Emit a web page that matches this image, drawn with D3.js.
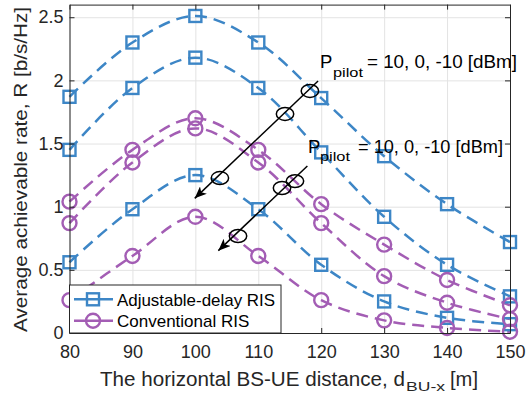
<!DOCTYPE html>
<html><head><meta charset="utf-8">
<script src="https://cdn.jsdelivr.net/npm/d3@7"></script>
<style>
html,body{margin:0;padding:0;background:#fff;}
svg{display:block;font-family:"Liberation Sans",Arial,Helvetica,sans-serif;}
</style></head>
<body><svg id="chart" width="531" height="394"></svg>
<script>
// ---- data ----
const distances = [80, 90, 100, 110, 120, 130, 140, 150];
const adjHigh = [1.87, 2.30, 2.51, 2.30, 1.86, 1.40, 1.02, 0.72];
const adjMid  = [1.45, 1.94, 2.18, 1.94, 1.43, 0.92, 0.54, 0.29];
const adjLow  = [0.56, 0.98, 1.25, 0.98, 0.54, 0.25, 0.12, 0.07];
const convHigh = [1.04, 1.45, 1.70, 1.45, 1.02, 0.70, 0.42, 0.22];
const convMid  = [0.87, 1.35, 1.62, 1.35, 0.87, 0.45, 0.24, 0.11];
const convLow  = [0.26, 0.61, 0.92, 0.61, 0.26, 0.10, 0.04, 0.01];
const yTicks = [0, 0.5, 1, 1.5, 2, 2.5];
const yTickLabels = ["0", "0.5", "1", "1.5", "2", "2.5"];
const legendLabels = ["Adjustable-delay RIS", "Conventional RIS"];
const annotationText = "= 10, 0, -10 [dBm]";

// annotation geometry in data units
const ann1 = {from:[119.5,1.995], to:[99.9,1.066], rings:[[118.2,1.916],[114.25,1.734],[103.9,1.227]], label:[119.8,2.095]};
const ann2 = {from:[117.8,1.322], to:[103.65,0.652], rings:[[115.83,1.203],[113.77,1.148],[106.78,0.768]], label:[117.9,1.425]};

const BLUE = "#3d86c6", PURPLE = "#a35db4", AXC = "#262626";

const svg = d3.select("#chart");
const L = 69.5, R = 510, T = 4.6, B = 333;
const x = d3.scaleLinear().domain([80,150]).range([L,R]);
const y = d3.scaleLinear().domain([0,2.6]).range([B,T]);

// grid
svg.append("g").attr("transform",`translate(0,${B})`)
  .call(d3.axisBottom(x).tickValues(distances).tickSize(-(B-T)).tickFormat(""))
  .call(g=>{g.select(".domain").remove(); g.selectAll("line").attr("stroke","#e3e3e3");});
svg.append("g").attr("transform",`translate(${L},0)`)
  .call(d3.axisLeft(y).tickValues(yTicks).tickSize(-(R-L)).tickFormat(""))
  .call(g=>{g.select(".domain").remove(); g.selectAll("line").attr("stroke","#e3e3e3");});

// series
const line = d3.line().x((d,i)=>x(distances[i])).y(d=>y(d)).curve(d3.curveCatmullRom.alpha(0.5));
const series = [
  {v:adjHigh,c:BLUE,m:"sq"},{v:adjMid,c:BLUE,m:"sq"},{v:adjLow,c:BLUE,m:"sq"},
  {v:convHigh,c:PURPLE,m:"ci"},{v:convMid,c:PURPLE,m:"ci"},{v:convLow,c:PURPLE,m:"ci"}
];
series.forEach(s=>{
  svg.append("path").datum(s.v).attr("d",line).attr("fill","none")
    .attr("stroke",s.c).attr("stroke-width",2.5).attr("stroke-dasharray","12,7");
});
function drawMarker(g, type, color, cx, cy){
  if(type==="sq"){
    g.append("rect").attr("x",cx-6).attr("y",cy-6).attr("width",12).attr("height",12)
      .attr("fill","none").attr("stroke",color).attr("stroke-width",2.4);
  } else {
    g.append("circle").attr("cx",cx).attr("cy",cy).attr("r",7)
      .attr("fill","none").attr("stroke",color).attr("stroke-width",2.4);
  }
}
series.forEach(s=>{
  const g = svg.append("g");
  s.v.forEach((d,i)=>drawMarker(g,s.m,s.c,x(distances[i]),y(d)));
});

// axes (box with inward ticks)
const styleAxis = g=>{g.select(".domain").attr("stroke",AXC); g.selectAll(".tick line").attr("stroke",AXC);
  g.selectAll("text").attr("fill",AXC).attr("font-size",18).attr("font-family","Liberation Sans, Arial, sans-serif");};
svg.append("g").attr("transform",`translate(0,${B})`)
  .call(d3.axisBottom(x).tickValues(distances).tickSize(-5).tickSizeOuter(0).tickPadding(12)).call(styleAxis);
svg.append("g").attr("transform",`translate(${L},0)`)
  .call(d3.axisLeft(y).tickValues(yTicks).tickFormat((d,i)=>yTickLabels[i]).tickSize(-5).tickSizeOuter(0).tickPadding(6)).call(styleAxis);
svg.append("g").attr("transform",`translate(0,${T})`)
  .call(d3.axisTop(x).tickValues(distances).tickSize(-5).tickSizeOuter(0).tickFormat("")).call(styleAxis);
svg.append("g").attr("transform",`translate(${R},0)`)
  .call(d3.axisRight(y).tickValues(yTicks).tickSize(-5).tickSizeOuter(0).tickFormat("")).call(styleAxis);

// axis labels
const xl = svg.append("g").attr("fill",AXC);
xl.append("text").attr("x",100).attr("y",386).attr("font-size",19.5)
  .attr("textLength",305).attr("lengthAdjust","spacingAndGlyphs").text("The horizontal BS-UE distance, d");
xl.append("text").attr("x",406).attr("y",390.5).attr("font-size",13.5)
  .attr("textLength",39).attr("lengthAdjust","spacingAndGlyphs").text("BU-x");
xl.append("text").attr("x",450).attr("y",386).attr("font-size",19.5)
  .attr("textLength",28).attr("lengthAdjust","spacingAndGlyphs").text("[m]");
svg.append("text").attr("transform","translate(26.5,169.5) rotate(-90)").attr("text-anchor","middle")
  .attr("fill",AXC).attr("font-size",18.5).attr("textLength",325).attr("lengthAdjust","spacingAndGlyphs")
  .text("Average achievable rate, R [b/s/Hz]");

// annotations
const defs = svg.append("defs");
defs.append("marker").attr("id","arr").attr("viewBox","0 0 12 10").attr("refX",12).attr("refY",5)
  .attr("markerWidth",12).attr("markerHeight",10).attr("markerUnits","userSpaceOnUse").attr("orient","auto")
  .append("path").attr("d","M0,0 L12,5 L0,10 L3,5 Z").attr("fill","#000");
[ann1,ann2].forEach((a,k)=>{
  svg.append("line").attr("x1",x(a.from[0])).attr("y1",y(a.from[1]))
    .attr("x2",x(a.to[0])).attr("y2",y(a.to[1])).attr("stroke","#000").attr("stroke-width",1.5)
    .attr("marker-end","url(#arr)");
  a.rings.forEach(r=>{
    svg.append("ellipse").attr("cx",x(r[0])).attr("cy",y(r[1])).attr("rx",8.7).attr("ry",6.4)
      .attr("fill","none").attr("stroke","#000").attr("stroke-width",1.5);
  });
  const px = x(a.label[0]), py = y(a.label[1]);
  const t = svg.append("g").attr("fill","#000");
  t.append("text").attr("x",px).attr("y",py).attr("font-size",18.5).text("P");
  t.append("text").attr("x",px+(k===0?13:12)).attr("y",py+(k===0?9:7.5)).attr("font-size",13)
    .attr("textLength",30).attr("lengthAdjust","spacingAndGlyphs").text("pilot");
  t.append("text").attr("x",px+(k===0?47:50)).attr("y",py).attr("font-size",18.5)
    .attr("textLength",k===0?150:145).attr("lengthAdjust","spacingAndGlyphs").text(annotationText);
});

// legend
const lg = svg.append("g");
lg.append("rect").attr("x",L).attr("y",285).attr("width",281-L).attr("height",B-285)
  .attr("fill","#fff").attr("stroke",AXC).attr("stroke-width",1);
[{c:BLUE,m:"sq",yy:299.3,ty:306},{c:PURPLE,m:"ci",yy:320.7,ty:326.7}].forEach((e,i)=>{
  lg.append("line").attr("x1",74).attr("x2",113).attr("y1",e.yy).attr("y2",e.yy)
    .attr("stroke",e.c).attr("stroke-width",2.5);
  drawMarker(lg,e.m,e.c,93,e.yy);
  const tx = lg.append("text").attr("x",117).attr("y",e.ty).attr("font-size",17).attr("fill","#000")
    .text(legendLabels[i]);
  if(i===0) tx.attr("textLength",158).attr("lengthAdjust","spacingAndGlyphs");
});
</script></body></html>
